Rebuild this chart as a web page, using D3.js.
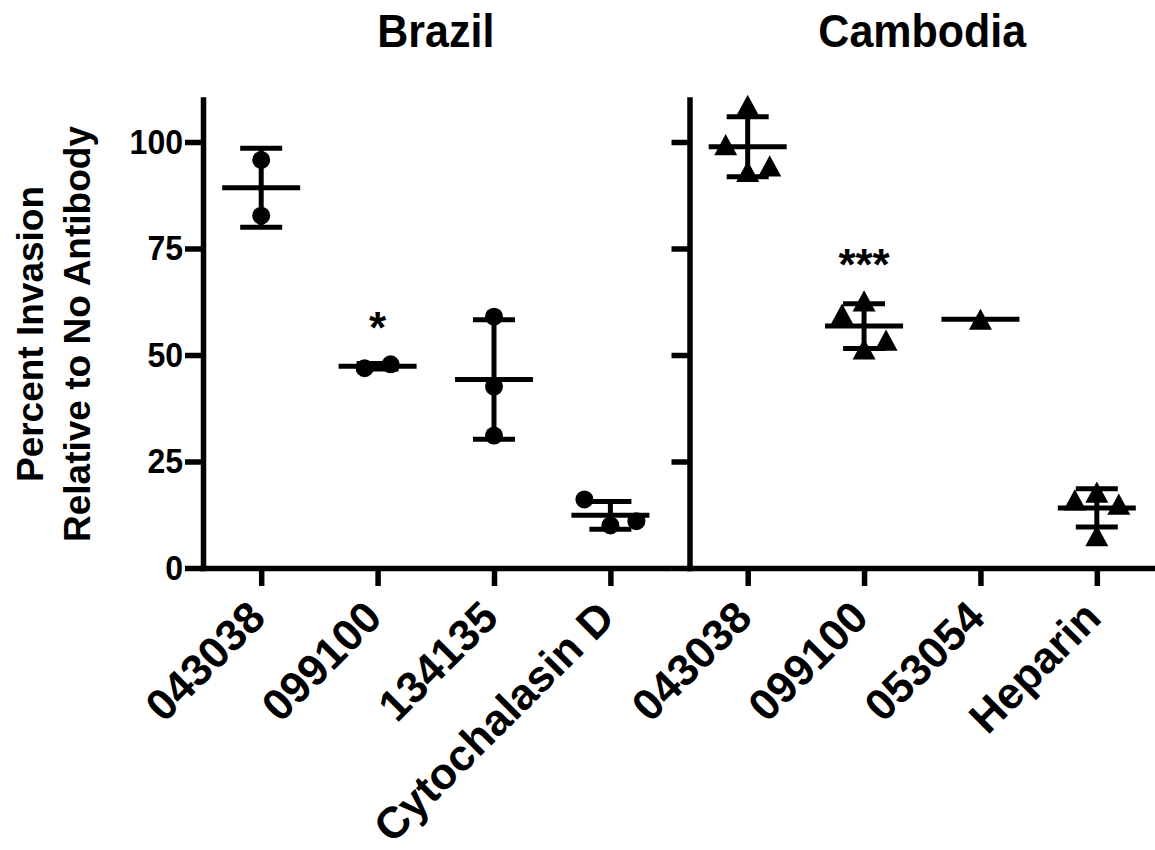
<!DOCTYPE html>
<html>
<head>
<meta charset="utf-8">
<script src="https://cdn.jsdelivr.net/npm/d3@7"></script>
<style>
  body { margin: 0; background: #fff; }
  text { font-family: "Liberation Sans", Arial, Helvetica, sans-serif; font-weight: bold; fill: #000; }
</style>
</head>
<body>
<svg id="chart" width="1155" height="850"></svg>
<script>
// values (percent invasion, one entry per replicate)
const brazilCats = ["043038", "099100", "134135", "Cytochalasin D"];
const brazilValues = [[95.8, 82.7], [47.8, 46.9], [59.0, 42.6, 31.1], [10.0, 16.1, 11.0]];
const brazilStars = ["", "*", "", ""];

const cambodiaCats = ["043038", "099100", "053054", "Heparin"];
const cambodiaValues = [[108.6, 93.1, 99.4, 94.4], [62.7, 51.4, 59.6, 53.5], [58.4], [17.8, 16.0, 15.0, 7.6]];
const cambodiaStars = ["", "***", "", ""];

const yTicks = [0, 25, 50, 75, 100];
const yLabel = ["Percent Invasion", "Relative to No Antibody"];

const svg = d3.select("#chart");
const stretch = "scale(1,1.09)";

const y = d3.scaleLinear().domain([0, 110]).range([568, 99.4]);

// triangle centred on its bounding box
const triangle = {
  draw(ctx, size) {
    const w = Math.sqrt(size), h = w * 0.92;
    ctx.moveTo(0, -h / 2);
    ctx.lineTo(w / 2, h / 2);
    ctx.lineTo(-w / 2, h / 2);
    ctx.closePath();
  }
};

// prism-like scatter: push colliding points to the side, then centre each cluster
function slotsFor(vals, H) {
  const px = vals.map(v => y(v));
  const slots = [];
  px.forEach(p => {
    for (const s of [0, -1, 1, -2, 2]) {
      if (!slots.some((t, j) => t === s && Math.abs(px[j] - p) < H)) { slots.push(s); return; }
    }
  });
  const parent = vals.map((_, i) => i);
  const find = i => parent[i] === i ? i : (parent[i] = find(parent[i]));
  for (let i = 0; i < px.length; i++)
    for (let j = i + 1; j < px.length; j++)
      if (Math.abs(px[i] - px[j]) < H) parent[find(i)] = find(j);
  const clusters = d3.group(vals.map((_, i) => i), i => find(i));
  clusters.forEach(idx => {
    const shift = (d3.min(idx, i => slots[i]) + d3.max(idx, i => slots[i])) / 2;
    idx.forEach(i => { slots[i] -= shift; });
  });
  return slots;
}

function panel(title, cats, values, stars, range, symbolType, symbolSize, step, showYLabels) {
  const x = d3.scalePoint().domain(cats).range(range).padding(0.5);
  const g = svg.append("g");

  // y axis
  const yAxis = d3.axisLeft(y).tickValues(yTicks).tickSize(18).tickSizeOuter(0).tickPadding(2)
    .tickFormat(showYLabels ? d3.format("d") : "");
  const ya = g.append("g").attr("transform", `translate(${range[0]},0)`).call(yAxis);
  ya.selectAll("text").attr("font-size", 32).attr("transform", stretch);

  // x axis
  const xAxis = d3.axisBottom(x).tickSize(18).tickSizeOuter(0);
  const xa = g.append("g").attr("transform", "translate(0,568)").call(xAxis);
  xa.selectAll(".tick text")
    .attr("x", 0).attr("y", 0).attr("dy", 0)
    .attr("font-size", 44)
    .attr("text-anchor", "end")
    .attr("transform", "translate(6,52) rotate(-45)");

  [ya, xa].forEach(a => {
    a.selectAll("path.domain").attr("stroke", "#000").attr("stroke-width", 5.5).attr("stroke-linecap", "square");
    a.selectAll(".tick line").attr("stroke", "#000").attr("stroke-width", 5.5);
  });

  // title
  g.append("text")
    .attr("transform", `translate(${(range[0] + range[1]) / 2},47) ${stretch}`)
    .attr("text-anchor", "middle")
    .attr("font-size", 43)
    .text(title);

  values.forEach((vals, i) => {
    const cx = x(cats[i]);
    const m = d3.mean(vals);
    const sd = d3.deviation(vals);
    const lines = g.append("g").attr("stroke", "#000").attr("stroke-width", 5);
    if (sd) {
      lines.append("line").attr("x1", cx).attr("x2", cx).attr("y1", y(m + sd)).attr("y2", y(m - sd));
      [m + sd, m - sd].forEach(v => {
        lines.append("line").attr("x1", cx - 21).attr("x2", cx + 21).attr("y1", y(v)).attr("y2", y(v));
      });
    }
    lines.append("line").attr("x1", cx - 39).attr("x2", cx + 39).attr("y1", y(m)).attr("y2", y(m));

    const slots = slotsFor(vals, 28);
    g.selectAll(null).data(vals).enter().append("path")
      .attr("d", d3.symbol().type(symbolType).size(symbolSize))
      .attr("transform", (d, k) => `translate(${cx + slots[k] * step},${y(d)})`)
      .attr("fill", "#000");

    if (stars[i]) {
      const top = Math.max(d3.max(vals), sd ? m + sd : m);
      g.append("text")
        .attr("x", cx).attr("y", y(top) - 21)
        .attr("text-anchor", "middle")
        .attr("font-size", 44)
        .text(stars[i]);
    }
  });
}

panel("Brazil", brazilCats, brazilValues, brazilStars, [203, 668.6], d3.symbolCircle, Math.PI * 81, 26, true);
panel("Cambodia", cambodiaCats, cambodiaValues, cambodiaStars, [689.5, 1155], triangle, 23 * 23, 22, false);

// y axis title
yLabel.forEach((t, i) => {
  svg.append("text")
    .attr("transform", `translate(${43 + i * 47},334) rotate(-90)`)
    .attr("text-anchor", "middle")
    .attr("font-size", 37)
    .text(t);
});
</script>
</body>
</html>
